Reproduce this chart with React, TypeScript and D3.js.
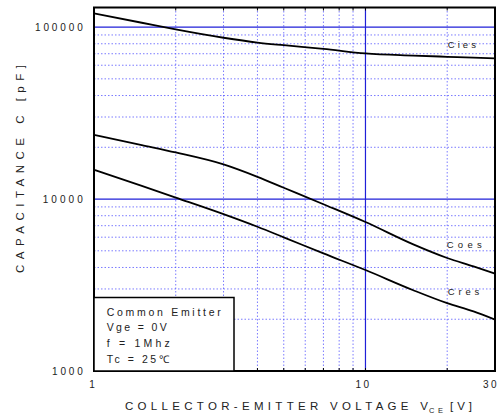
import React from "react";
import * as d3 from "d3";

const voltages = [1, 1.5, 2, 3, 4, 5, 7, 10, 15, 20, 25, 30];
const cies = [120000, 106000, 97000, 86700, 81300, 78500, 74800, 70300, 68300, 67200, 66400, 65800];
const coes = [23650, 20600, 18660, 15900, 13460, 11630, 9330, 7350, 5450, 4540, 4055, 3680];
const cres = [14800, 11920, 10200, 8170, 6900, 5990, 4830, 3865, 2950, 2480, 2220, 1990];

const seriesNames = ["Cies", "Coes", "Cres"];
const xMinorTicks = [2, 3, 4, 5, 6, 7, 8, 9, 20];
const xMajorTicks = [10];
const yMinorTicks = [2000, 3000, 4000, 5000, 6000, 7000, 8000, 9000, 20000, 30000, 40000, 50000, 60000, 70000, 80000, 90000];
const yMajorTicks = [10000, 100000];
const yTickLabels = ["1000", "10000", "100000"];
const xTickLabels = ["1", "10", "30"];
const legendLines = ["Common Emitter", "Vge = 0V", "f = 1Mhz", "Tc = 25℃"];

const W = 502, H = 419;
const L = 94, R = 495, T = 7.5, B = 371;
const FONT = "'Liberation Sans', Arial, sans-serif";
const TXT = "#222";

export default function App() {
  const x = d3.scaleLog().domain([1, 30]).range([L, R]);
  const y = d3.scaleLog().domain([1000, 130000]).range([B, T]);
  const line = d3
    .line<[number, number]>()
    .x((d) => x(d[0]))
    .y((d) => y(d[1]))
    .curve(d3.curveMonotoneX);
  const series = [cies, coes, cres];
  const labelPos = [
    { x: 447.7, y: 48.3, w: 28.3 },
    { x: 446.7, y: 247.7, w: 35 },
    { x: 447.7, y: 295, w: 31.6 },
  ];
  const yLabelWidths = [30.6, 40, 47.7];
  const xLabelInfo = [{ dx: -0.7 }, { dx: -2 }, { dx: -4 }];
  const legendW = [114, 60, 63, 62];
  return (
    <svg
      width={W}
      height={H}
      style={{ position: "absolute", left: 0, top: 0, background: "#fff" }}
      fontFamily={FONT}
    >
      <rect x={0} y={0} width={W} height={H} fill="#fff" />
      {xMinorTicks.map((v) => (
        <line key={"xm" + v} x1={x(v)} x2={x(v)} y1={T} y2={B} stroke="#5050ff" strokeWidth={1} strokeDasharray="1.5,2" opacity={0.75} />
      ))}
      {yMinorTicks.map((v) => (
        <line key={"ym" + v} x1={L} x2={R} y1={y(v)} y2={y(v)} stroke="#5050ff" strokeWidth={1} strokeDasharray="1.5,2" opacity={0.75} />
      ))}
      {xMajorTicks.map((v) => (
        <line key={"xM" + v} x1={x(v)} x2={x(v)} y1={T} y2={B} stroke="#2020d8" strokeWidth={1.2} />
      ))}
      {yMajorTicks.map((v) => (
        <line key={"yM" + v} x1={L} x2={R} y1={y(v)} y2={y(v)} stroke="#2020d8" strokeWidth={1.2} />
      ))}
      {[...xMinorTicks, ...xMajorTicks].map((v) => (
        <g key={"t" + v}>
          <line x1={x(v)} x2={x(v)} y1={T} y2={T + 3} stroke="#000" strokeWidth={1} />
          <line x1={x(v)} x2={x(v)} y1={B} y2={B - 3} stroke="#000" strokeWidth={1} />
        </g>
      ))}
      {series.map((s, i) => (
        <path
          key={seriesNames[i]}
          d={line(voltages.map((v, j) => [v, s[j]] as [number, number])) || ""}
          fill="none"
          stroke="#000"
          strokeWidth={1.8}
        />
      ))}
      {seriesNames.map((n, i) => (
        <text
          key={"lab" + n}
          x={labelPos[i].x}
          y={labelPos[i].y}
          fontSize={9.5}
          fill={TXT}
          textLength={labelPos[i].w}
          lengthAdjust="spacing"
        >
          {n}
        </text>
      ))}
      <rect x={L} y={T} width={R - L} height={B - T} fill="none" stroke="#000" strokeWidth={2} />
      <rect x={L} y={297.5} width={140} height={B - 297.5} fill="#fff" stroke="#000" strokeWidth={1.5} />
      {legendLines.map((t, i) => (
        <text
          key={"lg" + i}
          x={106.7}
          y={315.8 + i * 15.6}
          fontSize={10.5}
          fill={TXT}
          textLength={legendW[i]}
          lengthAdjust="spacing"
        >
          {t}
        </text>
      ))}
      {yTickLabels.map((t, i) => (
        <text
          key={"yl" + t}
          x={82.7}
          y={y(+t) + 3.8}
          fontSize={10}
          fill={TXT}
          textAnchor="end"
          textLength={yLabelWidths[i]}
          lengthAdjust="spacing"
        >
          {t}
        </text>
      ))}
      {xTickLabels.map((t, i) => (
        <text
          key={"xl" + t}
          x={x(+t) + xLabelInfo[i].dx}
          y={387.5}
          fontSize={10}
          fill={TXT}
          textAnchor="middle"
          letterSpacing={2.5}
        >
          {t}
        </text>
      ))}
      <text x={125} y={410} fontSize={11.5} fill={TXT} textLength={303} lengthAdjust="spacing">
        COLLECTOR-EMITTER VOLTAGE V
      </text>
      <text x={429} y={412.5} fontSize={7.5} fill={TXT} textLength={14} lengthAdjust="spacing">
        CE
      </text>
      <text x={450} y={410} fontSize={11.5} fill={TXT} textLength={22} lengthAdjust="spacing">
        [V]
      </text>
      <text
        transform="translate(23.5,169) rotate(-90)"
        fontSize={11.5}
        fill={TXT}
        textAnchor="middle"
        textLength={208}
        lengthAdjust="spacing"
      >
        CAPACITANCE C [pF]
      </text>
    </svg>
  );
}
